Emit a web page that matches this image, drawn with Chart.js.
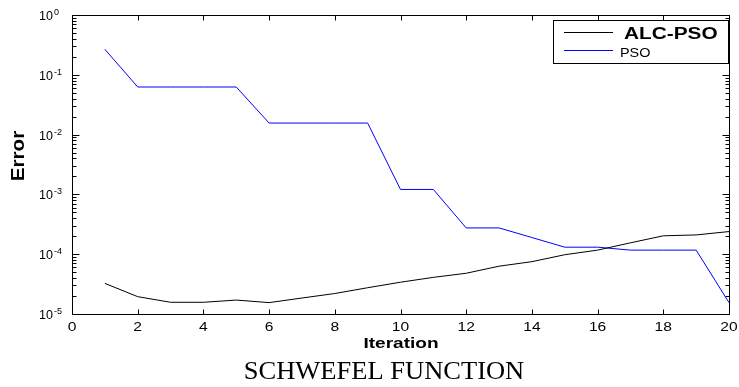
<!DOCTYPE html>
<html>
<head>
<meta charset="utf-8">
<script src="https://cdn.jsdelivr.net/npm/chart.js@4/dist/chart.umd.min.js"></script>
<style>
  html, body { margin: 0; padding: 0; background: #fff; }
  #wrap { width: 739px; height: 387px; }
</style>
</head>
<body>
<div id="wrap"><canvas id="errChart" width="739" height="387"></canvas></div>
<script>
// data
const iterations = [1, 2, 3, 4, 5, 6, 7, 8, 9, 10, 11, 12, 13, 14, 15, 16, 17, 18, 19, 20];
const alcPso = [3.25e-5, 1.95e-5, 1.57e-5, 1.57e-5, 1.71e-5, 1.55e-5, 1.85e-5, 2.2e-5, 2.75e-5, 3.4e-5,
                4.1e-5, 4.8e-5, 6.3e-5, 7.5e-5, 9.8e-5, 1.17e-4, 1.55e-4, 2.03e-4, 2.1e-4, 2.39e-4];
const pso = [0.267, 0.0625, 0.0625, 0.0625, 0.0625, 0.0156, 0.0156, 0.0156, 0.0156, 1.21e-3,
             1.21e-3, 2.75e-4, 2.75e-4, 1.9e-4, 1.31e-4, 1.31e-4, 1.17e-4, 1.17e-4, 1.17e-4, 1.55e-5];
const xTicks = [0, 2, 4, 6, 8, 10, 12, 14, 16, 18, 20];
const yExponents = [0, -1, -2, -3, -4, -5];
const seriesNames = ['ALC-PSO', 'PSO'];

const SANS = '"Liberation Sans", Arial, sans-serif';
const SERIF = '"Liberation Serif", "Times New Roman", serif';

// draw text squeezed/stretched horizontally (the source figure is widened)
function putText(ctx, s, x, y, font, sx, align) {
    ctx.save();
    ctx.font = font;
    ctx.translate(x, y);
    ctx.scale(sx, 1);
    ctx.textAlign = align || 'left';
    ctx.textBaseline = 'alphabetic';
    ctx.fillText(s, 0, 0);
    ctx.restore();
}

const matlabAxes = {
    id: 'matlabAxes',
    afterDraw(chart) {
        const ctx = chart.ctx;
        const a = chart.chartArea;
        const x = chart.scales.x, y = chart.scales.y;
        ctx.save();
        ctx.strokeStyle = '#000';
        ctx.fillStyle = '#000';
        ctx.lineWidth = 1;

        // box
        const L = Math.round(a.left) + 0.5, R = Math.round(a.right) + 0.5;
        const T = Math.round(a.top) + 0.5, B = Math.round(a.bottom) + 0.5;
        ctx.beginPath();
        ctx.rect(L, T, R - L, B - T);
        ctx.stroke();

        // x ticks (inward, top and bottom) + labels
        ctx.beginPath();
        xTicks.forEach(v => {
            const px = Math.round(x.getPixelForValue(v)) + 0.5;
            ctx.moveTo(px, B); ctx.lineTo(px, B - 5);
            ctx.moveTo(px, T); ctx.lineTo(px, T + 5);
        });
        ctx.stroke();
        xTicks.forEach(v => {
            putText(ctx, String(v), x.getPixelForValue(v), 331, '12px ' + SANS, 1.3, 'center');
        });

        // y ticks: decades long, minors short, both sides
        ctx.beginPath();
        yExponents.forEach(e => {
            for (let m = 1; m <= 9; m++) {
                const val = m * Math.pow(10, e);
                if (val > 1.0001) break;
                const py = Math.round(y.getPixelForValue(val)) + 0.5;
                const len = m === 1 ? 7 : 4;
                ctx.moveTo(L, py); ctx.lineTo(L + len, py);
                ctx.moveTo(R, py); ctx.lineTo(R - len, py);
            }
        });
        ctx.stroke();
        yExponents.forEach(e => {
            const py = y.getPixelForValue(Math.pow(10, e));
            putText(ctx, '10', 53, py + 5, '12.5px ' + SANS, 1, 'right');
            putText(ctx, String(e), 54, py, '9px ' + SANS, 1, 'left');
        });

        // axis titles
        putText(ctx, 'Iteration', 401, 348, 'bold 15px ' + SANS, 1.27, 'center');
        ctx.save();
        ctx.translate(24, 156);
        ctx.rotate(-Math.PI / 2);
        putText(ctx, 'Error', 0, 0, 'bold 18px ' + SANS, 1.15, 'center');
        ctx.restore();

        // caption
        putText(ctx, 'SCHWEFEL FUNCTION', 384, 379, '25px ' + SERIF, 1.06, 'center');

        // legend
        const lx = 553.5, ly = 20.5, lw = 175, lh = 43;
        ctx.fillStyle = '#fff';
        ctx.fillRect(lx, ly, lw, lh);
        ctx.strokeRect(lx, ly, lw, lh);
        const rows = [
            { y: 32, font: 'bold 16px ' + SANS, sx: 1.3, tx: 624, ty: 39 },
            { y: 50, font: '12px ' + SANS, sx: 1.2, tx: 620, ty: 56.5 }
        ];
        chart.data.datasets.forEach((ds, i) => {
            const r = rows[i];
            ctx.strokeStyle = ds.borderColor;
            ctx.beginPath();
            ctx.moveTo(564, r.y + 0.5); ctx.lineTo(613, r.y + 0.5);
            ctx.stroke();
            ctx.fillStyle = '#000';
            putText(ctx, ds.label, r.tx, r.ty, r.font, r.sx, 'left');
        });
        ctx.restore();
    }
};

const ctx = document.getElementById('errChart').getContext('2d');
new Chart(ctx, {
    type: 'line',
    data: {
        datasets: [{
            label: seriesNames[0],
            data: iterations.map((it, i) => ({ x: it, y: alcPso[i] })),
            borderColor: '#000000',
            borderWidth: 1,
            pointRadius: 0,
            tension: 0
        }, {
            label: seriesNames[1],
            data: iterations.map((it, i) => ({ x: it, y: pso[i] })),
            borderColor: '#0000ff',
            borderWidth: 1,
            pointRadius: 0,
            tension: 0
        }]
    },
    options: {
        responsive: false,
        animation: false,
        devicePixelRatio: 1,
        layout: { padding: { left: 72, right: 10, top: 15, bottom: 73 } },
        scales: {
            x: { type: 'linear', min: 0, max: 20, display: false },
            y: { type: 'logarithmic', min: 1e-5, max: 1, display: false }
        },
        plugins: {
            legend: { display: false },
            tooltip: { enabled: false }
        }
    },
    plugins: [matlabAxes]
});
</script>
</body>
</html>
